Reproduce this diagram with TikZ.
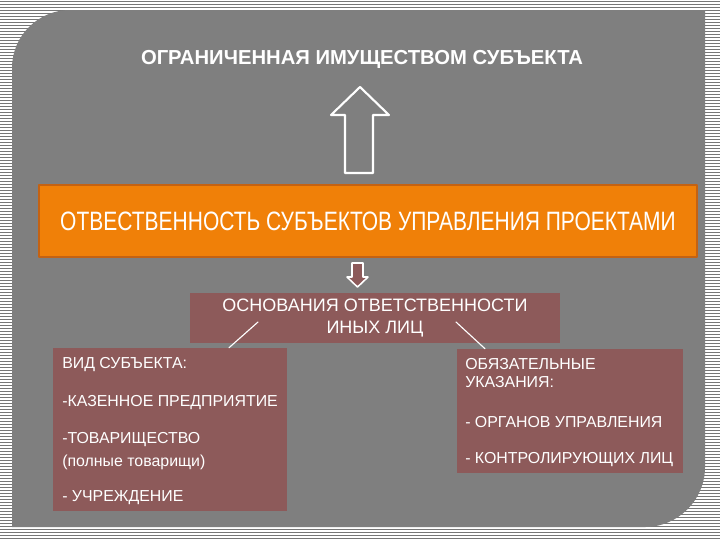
\documentclass[tikz,border=0pt]{standalone}
\usepackage{fontspec}
\setmainfont{Liberation Sans}
\newfontfamily\narrowfont[FakeStretch=0.79]{Liberation Sans}
\usetikzlibrary{positioning}
\definecolor{slidegray}{RGB}{127,127,127}
\definecolor{stripegray}{RGB}{118,118,118}
\definecolor{boxred}{RGB}{141,90,90}
\definecolor{headorange}{RGB}{240,128,8}
\definecolor{orangeedge}{RGB}{196,98,18}

\begin{document}
\begin{tikzpicture}[
  x=0.025cm, y=-0.025cm,
  line cap=round,
  line join=round,
  panel/.style={fill=boxred, draw=none, inner sep=0pt},
  textline/.style={
    text=white, inner sep=0pt, anchor=west,
    font=\fontsize{11.3pt}{12.5pt}\selectfont
  },
  link/.style={draw=white, line width=0.8pt}
]
  \useasboundingbox (0,0) rectangle (720,540);

  % Striped backdrop
  \fill[white] (0,0) rectangle (720,540);
  \foreach \y in {1.5,4.5,...,540} {
    \draw[stripegray, line width=1.1pt] (0,\y) -- (720,\y);
  }

  % Slide area
  \fill[slidegray]
    (12,527) -- (12,68)
    .. controls (12,36) and (38,10) .. (70,10)
    -- (705,10) -- (705,467)
    .. controls (705,500) and (678,527) .. (645,527)
    -- cycle;

  % Top caption
  \node[text=white, font=\bfseries\fontsize{14.4pt}{16pt}\selectfont]
    (limit) at (362,59) {ОГРАНИЧЕННАЯ ИМУЩЕСТВОМ СУБЪЕКТА};

  % Main orange bar
  \node[
    fill=headorange, draw=orangeedge, line width=1.4pt,
    minimum width=16.45cm, minimum height=1.8cm,
    text=white, font=\narrowfont\fontsize{18.9pt}{21pt}\selectfont
  ] (resp) at (368,221) {ОТВЕСТВЕННОСТЬ СУБЪЕКТОВ УПРАВЛЕНИЯ ПРОЕКТАМИ};

  % Hollow up arrow
  \draw[white, line width=1.5pt]
    (345,173) -- (345,115) -- (331,115) -- (360,87)
    -- (389,115) -- (373,115) -- (373,173) -- cycle;

  % Small down arrow
  \draw[white, fill=boxred, line width=1.1pt]
    (352,263) -- (363,263) -- (363,277) -- (368,277)
    -- (357.5,287) -- (347,277) -- (352,277) -- cycle;

  % Grounds box
  \node[
    panel, minimum width=9.25cm, minimum height=1.25cm,
    text=white, align=center,
    font=\fontsize{12.8pt}{15.6pt}\selectfont
  ] (grounds) at (375,318) {ОСНОВАНИЯ ОТВЕТСТВЕННОСТИ\\ИНЫХ ЛИЦ};

  % Subject kinds
  \node[panel, minimum width=5.85cm, minimum height=4.075cm]
    (kind) at (170,429.5) {};
  \node[textline] (kindhead) at (62,365) {ВИД СУБЪЕКТА:};
  \node[textline] (kindone) at (62,403) {-КАЗЕННОЕ ПРЕДПРИЯТИЕ};
  \node[textline] (kindtwo) at (62,440) {-ТОВАРИЩЕСТВО};
  \node[textline] (kindnote) at (62,462) {(полные товарищи)};
  \node[textline] (kindthree) at (62,498) {- УЧРЕЖДЕНИЕ};

  % Binding orders
  \node[panel, minimum width=5.65cm, minimum height=3.1cm]
    (orders) at (570,411) {};
  \node[textline] (ordershead) at (465,364) {ОБЯЗАТЕЛЬНЫЕ};
  \node[textline] (orderssub) at (465,382) {УКАЗАНИЯ:};
  \node[textline] (ordersone) at (465,422) {- ОРГАНОВ УПРАВЛЕНИЯ};
  \node[textline] (orderstwo) at (465,460) {- КОНТРОЛИРУЮЩИХ ЛИЦ};

  % Links
  \coordinate (gleft) at (258,322);
  \coordinate (gright) at (456,322);
  \draw[link] (gleft) -- ([xshift=1.475cm]kind.north);
  \draw[link] (gright) -- ([xshift=-2.125cm]orders.north);
\end{tikzpicture}
\end{document}
